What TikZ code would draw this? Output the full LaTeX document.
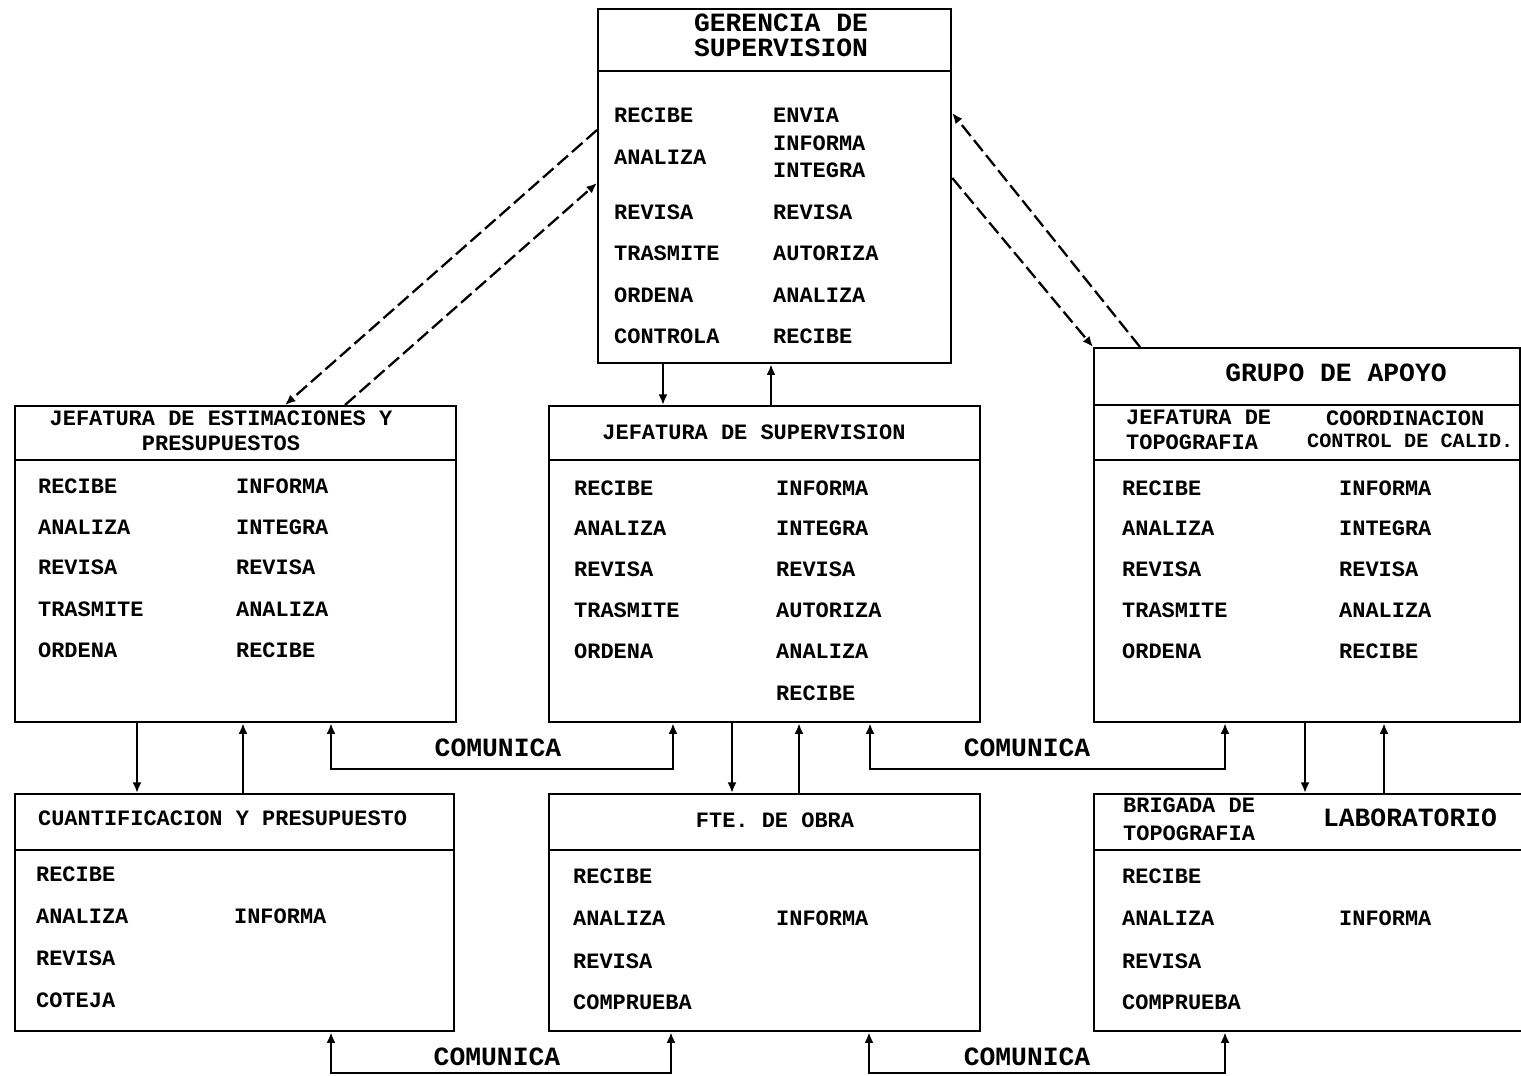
\documentclass[tikz,border=0pt]{standalone}
\usepackage{fontspec}
\setmainfont{Liberation Mono}
\usepackage{tikz}
\usetikzlibrary{shapes,arrows,arrows.meta,positioning}

\begin{document}
\begin{tikzpicture}[x=0.02cm, y=-0.02cm, line width=1.3pt]
    \tikzstyle{box} = [rectangle, draw, anchor=north west, inner sep=0pt]
    \tikzstyle{item} = [anchor=west, inner sep=0pt, font=\bfseries\fontsize{12.5}{14}\selectfont]
    \tikzstyle{head} = [inner sep=0pt, align=center, font=\bfseries\fontsize{12.5}{14.2}\selectfont]
    \tikzstyle{wide} = [inner sep=0pt, align=center, font=\bfseries\fontsize{15}{14.2}\selectfont]
    \tikzstyle{line} = [draw, -{Latex[length=6pt,width=5pt]}]
    \tikzstyle{both} = [draw, {Latex[length=6pt,width=5pt]}-{Latex[length=6pt,width=5pt]}]
    \tikzstyle{link} = [draw, -{Latex[length=6pt,width=5pt]}, dash pattern=on 8pt off 3pt]

    \useasboundingbox (0,0) rectangle (1521,1075);
    \clip (0,0) rectangle (1521,1075);

    % cajas
    \node [box, minimum width=7.06cm, minimum height=7.08cm] (ger) at (597,8) {};
    \node [box, minimum width=8.82cm, minimum height=6.32cm] (jest) at (14,405) {};
    \node [box, minimum width=8.62cm, minimum height=6.32cm] (jsup) at (548,405) {};
    \node [box, minimum width=8.52cm, minimum height=7.48cm] (grupo) at (1093,347) {};
    \node [box, minimum width=8.78cm, minimum height=4.74cm] (cuant) at (14,793) {};
    \node [box, minimum width=8.62cm, minimum height=4.74cm] (fte) at (548,793) {};
    \node [box, minimum width=9.2cm, minimum height=4.74cm] (brig) at (1093,793) {};

    \draw (ger.west |- 0,71) -- (ger.east |- 0,71);
    \draw (jest.west |- 0,460) -- (jest.east |- 0,460);
    \draw (jsup.west |- 0,460) -- (jsup.east |- 0,460);
    \draw (grupo.west |- 0,405) -- (grupo.east |- 0,405);
    \draw (grupo.west |- 0,460) -- (grupo.east |- 0,460);
    \draw (cuant.west |- 0,850) -- (cuant.east |- 0,850);
    \draw (fte.west |- 0,850) -- (fte.east |- 0,850);
    \draw (brig.west |- 0,850) -- (brig.east |- 0,850);

    % titulos
    \node [wide] (ger-t) at (781,35) {GERENCIA DE\\SUPERVISION};
    \node [head] (jest-t) at (221,431) {JEFATURA DE ESTIMACIONES Y\\PRESUPUESTOS};
    \node [head] (jsup-t) at (754,432) {JEFATURA DE SUPERVISION};
    \node [wide] (grupo-t) at (1336,373) {GRUPO DE APOYO};
    \node [head, anchor=west, align=left] (topo-t) at (1125,430) {JEFATURA DE\\TOPOGRAFIA};
    \node [head, anchor=west] (coord-t) at (1325,418) {COORDINACION};
    \node [head, anchor=west, font=\bfseries\fontsize{11.5}{14}\selectfont] (calid-t) at (1306,441) {CONTROL DE CALID.};
    \node [head, anchor=west] (cuant-t) at (37,818) {CUANTIFICACION Y PRESUPUESTO};
    \node [head] (fte-t) at (775,820) {FTE. DE OBRA};
    \node [head, anchor=west, align=left, font=\bfseries\fontsize{12.5}{15.9}\selectfont] (brig-t) at (1122,819) {BRIGADA DE\\TOPOGRAFIA};
    \node [wide] (lab-t) at (1410,818) {LABORATORIO};

    % funciones
    \foreach \t/\y [count=\i] in {RECIBE/115, ANALIZA/157, REVISA/212, TRASMITE/253, ORDENA/295, CONTROLA/336}
        \node [item] (ger-l\i) at (613,\y) {\t};
    \foreach \t/\y [count=\i] in {ENVIA/115, INFORMA/143, INTEGRA/170, REVISA/212, AUTORIZA/253, ANALIZA/295, RECIBE/336}
        \node [item] (ger-r\i) at (772,\y) {\t};
    \foreach \t/\y [count=\i] in {RECIBE/486, ANALIZA/527, REVISA/567, TRASMITE/609, ORDENA/650}
        \node [item] (jest-l\i) at (37,\y) {\t};
    \foreach \t/\y [count=\i] in {INFORMA/486, INTEGRA/527, REVISA/567, ANALIZA/609, RECIBE/650}
        \node [item] (jest-r\i) at (235,\y) {\t};
    \foreach \t/\y [count=\i] in {RECIBE/488, ANALIZA/528, REVISA/569, TRASMITE/610, ORDENA/651}
        \node [item] (jsup-l\i) at (573,\y) {\t};
    \foreach \t/\y [count=\i] in {INFORMA/488, INTEGRA/528, REVISA/569, AUTORIZA/610, ANALIZA/651, RECIBE/693}
        \node [item] (jsup-r\i) at (775,\y) {\t};
    \foreach \t/\y [count=\i] in {RECIBE/488, ANALIZA/528, REVISA/569, TRASMITE/610, ORDENA/651}
        \node [item] (grupo-l\i) at (1121,\y) {\t};
    \foreach \t/\y [count=\i] in {INFORMA/488, INTEGRA/528, REVISA/569, ANALIZA/610, RECIBE/651}
        \node [item] (grupo-r\i) at (1338,\y) {\t};
    \foreach \t/\y [count=\i] in {RECIBE/874, ANALIZA/916, REVISA/958, COTEJA/1000}
        \node [item] (cuant-l\i) at (35,\y) {\t};
    \node [item] (cuant-r1) at (233,916) {INFORMA};
    \foreach \t/\y [count=\i] in {RECIBE/876, ANALIZA/918, REVISA/961, COMPRUEBA/1002}
        \node [item] (fte-l\i) at (572,\y) {\t};
    \node [item] (fte-r1) at (775,918) {INFORMA};
    \foreach \t/\y [count=\i] in {RECIBE/876, ANALIZA/918, REVISA/961, COMPRUEBA/1002}
        \node [item] (brig-l\i) at (1121,\y) {\t};
    \node [item] (brig-r1) at (1338,918) {INFORMA};

    % lineas de mando
    \path [line] (ger.south -| 663,0) -- (jsup.north -| 663,0);
    \path [line] (jsup.north -| 771,0) -- (ger.south -| 771,0);
    \path [line] (jest.south -| 137,0) -- (cuant.north -| 137,0);
    \path [line] (cuant.north -| 243,0) -- (jest.south -| 243,0);
    \path [line] (jsup.south -| 732,0) -- (fte.north -| 732,0);
    \path [line] (fte.north -| 799,0) -- (jsup.south -| 799,0);
    \path [line] (grupo.south -| 1305,0) -- (brig.north -| 1305,0);
    \path [line] (brig.north -| 1384,0) -- (grupo.south -| 1384,0);

    \path [link] (ger.west |- 0,130) -- (jest.north -| 285,0);
    \path [link] (jest.north -| 345,0) -- (ger.west |- 0,183);
    \path [link] (grupo.north -| 1140,0) -- (ger.east |- 0,113);
    \path [link] (ger.east |- 0,178) -- (grupo.north west);

    % comunica
    \path [both] (jest.south -| 331,0) -- ++(0,46) -| (jsup.south -| 673,0);
    \path [both] (jsup.south -| 870,0) -- ++(0,46) -| (grupo.south -| 1225,0);
    \path [both] (cuant.south -| 331,0) -- ++(0,41) -| (fte.south -| 671,0);
    \path [both] (fte.south -| 869,0) -- ++(0,41) -| (brig.south -| 1225,0);
    \node [wide] (com1) at (498,748) {COMUNICA};
    \node [wide] (com2) at (1027,748) {COMUNICA};
    \node [wide] (com3) at (497,1057) {COMUNICA};
    \node [wide] (com4) at (1027,1057) {COMUNICA};
\end{tikzpicture}
\end{document}
